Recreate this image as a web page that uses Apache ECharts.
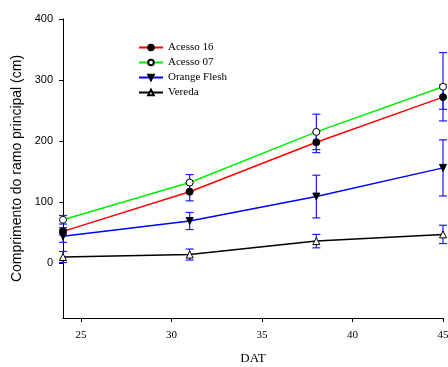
<!DOCTYPE html>
<html>
<head>
<meta charset="utf-8">
<script src="https://cdn.jsdelivr.net/npm/echarts@6/dist/echarts.min.js"></script>
<style>
  html, body { margin: 0; padding: 0; background: #fff; }
  #chart { width: 448px; height: 367px; }
</style>
</head>
<body>
<div id="chart"></div>
<script>
// Days after transplanting
const dat = [24, 31, 38, 45];
const xTicks = [25, 30, 35, 40, 45];
const yTicks = [0, 100, 200, 300, 400];

// Main branch length (cm) and its error per accession
const acesso16 = [52, 117, 198, 272];
const acesso16Err = [6, 15, 17, 20];
const acesso07 = [71, 132, 215, 289];
const acesso07Err = [7, 13, 29, 56];
const orangeFlesh = [44, 69, 109, 156];
const orangeFleshErr = [10, 14, 35, 46];
const vereda = [10, 14, 36, 47];
const veredaErr = [9, 9, 11, 15];

const serif = 'Liberation Serif, Times New Roman, serif';
const sans = 'Liberation Sans, Arial, sans-serif';

function pairs(vals) {
  return dat.map((d, i) => [d, vals[i]]);
}

function errorSeries(vals, errs) {
  return {
    type: 'custom',
    z: 1,
    silent: true,
    data: dat.map((d, i) => [d, vals[i] - errs[i], vals[i] + errs[i]]),
    renderItem: function (params, api) {
      const lo = api.coord([api.value(0), api.value(1)]);
      const hi = api.coord([api.value(0), api.value(2)]);
      const w = 4;
      const style = { stroke: '#1a1aff', lineWidth: 1.2 };
      return {
        type: 'group',
        children: [
          { type: 'line', shape: { x1: hi[0], y1: hi[1], x2: lo[0], y2: lo[1] }, style },
          { type: 'line', shape: { x1: hi[0] - w, y1: hi[1], x2: hi[0] + w, y2: hi[1] }, style },
          { type: 'line', shape: { x1: lo[0] - w, y1: lo[1], x2: lo[0] + w, y2: lo[1] }, style }
        ]
      };
    }
  };
}

function lineSeries(name, vals, lineColor, symbol, fill, rotate) {
  return {
    name: name,
    type: 'line',
    z: 3,
    data: pairs(vals),
    symbol: symbol,
    symbolSize: 7,
    symbolRotate: rotate || 0,
    showAllSymbol: true,
    lineStyle: { color: lineColor, width: 1.5 },
    itemStyle: { color: fill, borderColor: '#000', borderWidth: 1 },
    emphasis: { disabled: true }
  };
}

const chart = echarts.init(document.getElementById('chart'));
chart.setOption({
  animation: false,
  backgroundColor: '#fff',
  grid: { left: 63, top: 19, right: 5, bottom: 49, outerBoundsMode: 'none', containLabel: false },
  legend: {
    orient: 'vertical',
    left: 133,
    top: 37,
    itemWidth: 24,
    itemHeight: 7,
    itemGap: 4,
    textStyle: { fontFamily: serif, fontSize: 11, color: '#000' },
    data: ['Acesso 16', 'Acesso 07', 'Orange Flesh', 'Vereda']
  },
  xAxis: {
    type: 'value',
    min: 24,
    max: 45,
    name: 'DAT',
    nameLocation: 'middle',
    nameGap: 34,
    nameTextStyle: { fontFamily: serif, fontSize: 13, color: '#000' },
    splitLine: { show: false },
    axisLine: { onZero: false, lineStyle: { color: '#000', width: 1 } },
    axisTick: { show: true, length: 4, customValues: xTicks, lineStyle: { color: '#000' } },
    axisLabel: { customValues: xTicks, margin: 12, fontFamily: serif, fontSize: 11, color: '#000' }
  },
  yAxis: {
    type: 'value',
    min: -90,
    max: 400,
    name: 'Comprimento do ramo principal (cm)',
    nameLocation: 'middle',
    nameGap: 37,
    nameTextStyle: { fontFamily: sans, fontSize: 14, color: '#000' },
    splitLine: { show: false },
    axisLine: { show: true, onZero: false, lineStyle: { color: '#000', width: 1 } },
    axisTick: { show: true, length: 4, customValues: yTicks, lineStyle: { color: '#000' } },
    axisLabel: { customValues: yTicks, margin: 10, fontFamily: sans, fontSize: 11, color: '#000' }
  },
  series: [
    errorSeries(acesso16, acesso16Err),
    errorSeries(acesso07, acesso07Err),
    errorSeries(orangeFlesh, orangeFleshErr),
    errorSeries(vereda, veredaErr),
    lineSeries('Acesso 16', acesso16, '#ff0000', 'circle', '#000'),
    lineSeries('Acesso 07', acesso07, '#00ee00', 'circle', '#fff'),
    lineSeries('Orange Flesh', orangeFlesh, '#0000ff', 'triangle', '#000', 180),
    lineSeries('Vereda', vereda, '#000000', 'triangle', '#fff')
  ]
});
</script>
</body>
</html>
